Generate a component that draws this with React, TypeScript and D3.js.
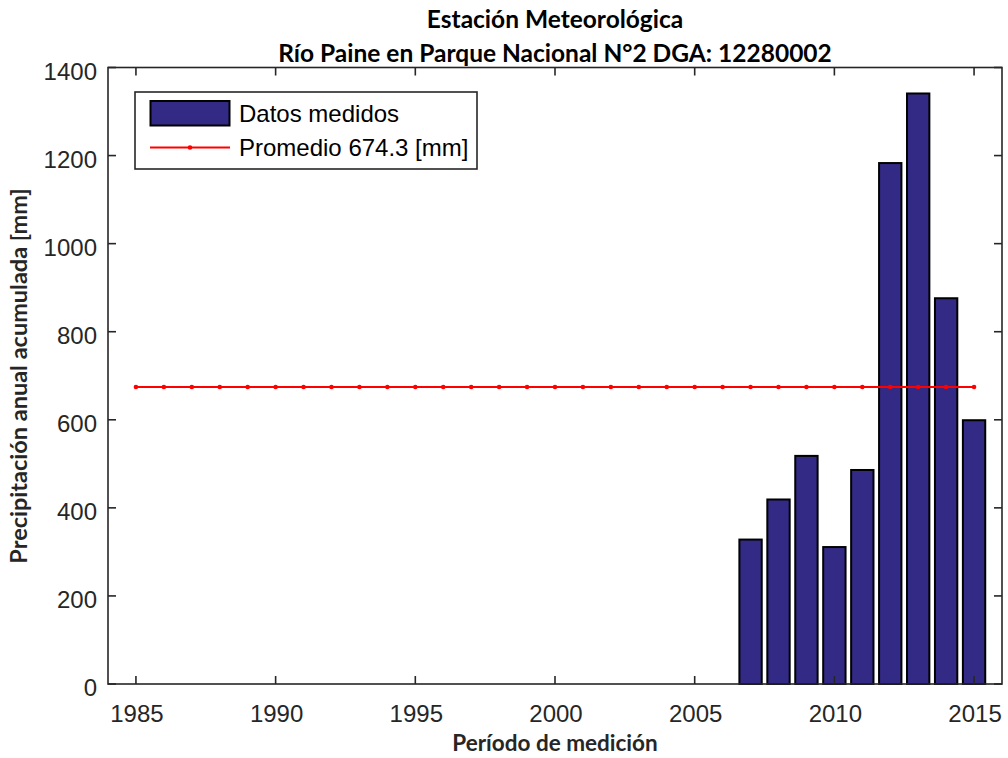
import React from "react";
import * as d3 from "d3";

const years = [2007, 2008, 2009, 2010, 2011, 2012, 2013, 2014, 2015];
const precip = [328, 419, 518, 311, 486, 1183, 1341, 876, 599];
const avgYears = d3.range(1985, 2016);
const average = 674.3;
const xTicks = [1985, 1990, 1995, 2000, 2005, 2010, 2015];
const yTicks = [0, 200, 400, 600, 800, 1000, 1200, 1400];
const titleLines = ["Estación Meteorológica", "Río Paine en Parque Nacional N°2 DGA: 12280002"];
const xLabel = "Período de medición";
const yLabel = "Precipitación anual acumulada [mm]";
const legendLabels = ["Datos medidos", "Promedio 674.3 [mm]"];

const W = 1008, H = 758;
const M = { left: 108, right: 1002, top: 67.5, bottom: 684 };
const axisColor = "#262626";
const barColor = "#332a86";
const tickFont = "'Liberation Sans', Arial, sans-serif";
const titleFont = "Lato, 'Open Sans', sans-serif";

export default function App() {
  const x = d3.scaleLinear().domain([1984, 2016]).range([M.left, M.right]);
  const y = d3.scaleLinear().domain([0, 1400]).range([M.bottom, M.top]);
  const bw = (x(1985) - x(1984)) * 0.8;
  const line = d3.line<number>().x((d) => x(d)).y(() => y(average));
  const tl = 8;
  const cx = (M.left + M.right) / 2;
  return (
    <svg width={W} height={H} style={{ position: "absolute", left: 0, top: 0, background: "#fff" }}>
      <rect x={0} y={0} width={W} height={H} fill="#fff" />
      {/* bars */}
      {years.map((yr, i) => (
        <rect key={yr} x={x(yr) - bw / 2} y={y(precip[i])} width={bw} height={y(0) - y(precip[i])}
          fill={barColor} stroke="#000" strokeWidth={2} />
      ))}
      {/* average line */}
      <path d={line(avgYears) || ""} fill="none" stroke="#ff0000" strokeWidth={2} />
      {avgYears.map((yr) => (
        <circle key={yr} cx={x(yr)} cy={y(average)} r={2.3} fill="#ff0000" />
      ))}
      {/* axes box */}
      <rect x={M.left} y={M.top} width={M.right - M.left} height={M.bottom - M.top} fill="none" stroke={axisColor} strokeWidth={1.6} />
      {xTicks.map((t) => (
        <g key={t}>
          <line x1={x(t)} x2={x(t)} y1={M.bottom} y2={M.bottom - tl} stroke={axisColor} strokeWidth={1.6} />
          <line x1={x(t)} x2={x(t)} y1={M.top} y2={M.top + tl} stroke={axisColor} strokeWidth={1.6} />
          <text x={x(t) + 1} y={722} textAnchor="middle" fontFamily={tickFont} fontSize={24} fill={axisColor}>{t}</text>
        </g>
      ))}
      {yTicks.map((t) => (
        <g key={t}>
          <line x1={M.left} x2={M.left + tl} y1={y(t)} y2={y(t)} stroke={axisColor} strokeWidth={1.6} />
          <line x1={M.right} x2={M.right - tl} y1={y(t)} y2={y(t)} stroke={axisColor} strokeWidth={1.6} />
          <text x={97} y={y(t) + 12} textAnchor="end" fontFamily={tickFont} fontSize={24} fill={axisColor}>{t}</text>
        </g>
      ))}
      {/* titles */}
      <text x={cx} y={28} textAnchor="middle" fontFamily={titleFont} fontWeight="bold" fontSize={24.5} fill="#000">{titleLines[0]}</text>
      <text x={cx} y={61.5} textAnchor="middle" fontFamily={titleFont} fontWeight="bold" fontSize={24.5} fill="#000">{titleLines[1]}</text>
      <text x={cx} y={751} textAnchor="middle" fontFamily={titleFont} fontWeight="bold" fontSize={22.5} fill={axisColor}>{xLabel}</text>
      <text transform={`translate(26.5,376) rotate(-90)`} textAnchor="middle" fontFamily={titleFont} fontWeight="bold" fontSize={23.5} fill={axisColor}>{yLabel}</text>
      {/* legend */}
      <rect x={135} y={92} width={342} height={77} fill="#fff" stroke={axisColor} strokeWidth={1.6} />
      <rect x={150.5} y={101} width={79} height={24.5} fill={barColor} stroke="#000" strokeWidth={2} />
      <text x={239} y={122} fontFamily={tickFont} fontSize={24} fill="#000">{legendLabels[0]}</text>
      <line x1={150} x2={230} y1={147.5} y2={147.5} stroke="#ff0000" strokeWidth={2} />
      <circle cx={190} cy={147.5} r={2.3} fill="#ff0000" />
      <text x={239} y={155.5} fontFamily={tickFont} fontSize={24} fill="#000">{legendLabels[1]}</text>
    </svg>
  );
}
